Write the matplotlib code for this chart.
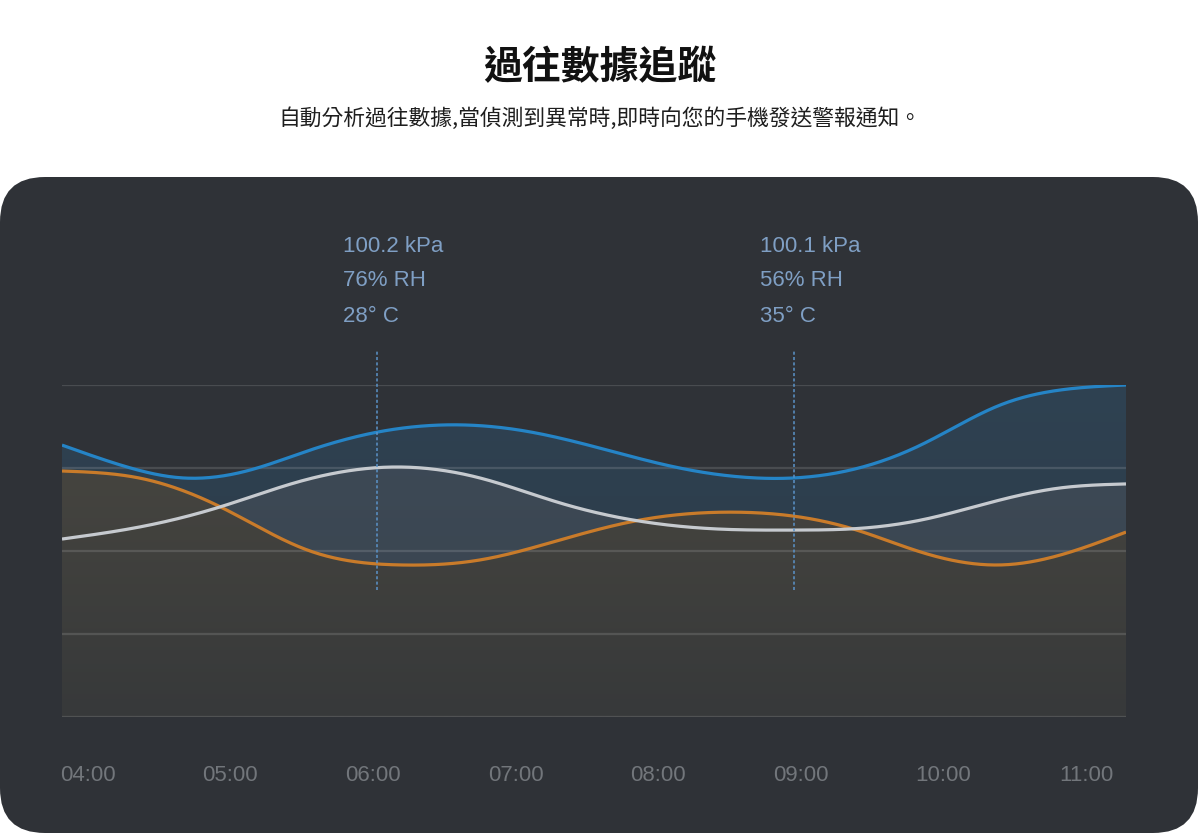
import matplotlib.pyplot as plt
import numpy as np
from matplotlib.patches import FancyBboxPatch, PathPatch
from matplotlib.transforms import blended_transform_factory

# chart text
TITLE = "過往數據追蹤"
SUBTITLE = "自動分析過往數據,當偵測到異常時,即時向您的手機發送警報通知。"

# x axis (hours)
TICK_HOURS = [4, 5, 6, 7, 8, 9, 10, 11]
TICK_LABELS = ["04:00", "05:00", "06:00", "07:00", "08:00", "09:00", "10:00", "11:00"]
X_RANGE = (3.82, 11.28)

# series (hour, level 0-100)
BLUE_T = [3.82, 4.23, 4.67, 5.14, 5.56, 6.03, 6.54, 7.03, 7.59, 8.15, 8.58, 8.95, 9.35, 9.84, 10.40, 10.82, 11.28]
BLUE_V = [81.9, 75.9, 72.0, 74.4, 80.4, 85.8, 88.0, 86.4, 81.0, 75.0, 72.3, 72.0, 74.4, 81.9, 94.0, 98.5, 100.0]

WHITE_T = [3.82, 4.36, 4.93, 5.49, 6.15, 6.75, 7.31, 7.87, 8.43, 8.95, 9.37, 9.84, 10.40, 10.82, 11.28]
WHITE_V = [53.6, 57.2, 63.3, 71.0, 75.3, 72.0, 64.5, 59.0, 56.6, 56.3, 56.7, 59.3, 65.4, 69.0, 70.2]

ORANGE_T = [3.82, 4.36, 4.93, 5.54, 6.19, 6.75, 7.31, 7.87, 8.52, 8.95, 9.37, 9.84, 10.40, 10.82, 11.28]
ORANGE_V = [74.1, 72.0, 63.3, 50.3, 45.8, 47.3, 53.3, 59.3, 61.7, 60.5, 56.6, 49.7, 45.8, 48.8, 55.7]

GRID_LEVELS = [0, 25, 50, 75, 100]

# highlighted readings
MARKER_T = [6.03, 8.95]
PRESSURE = ["100.2 kPa", "100.1 kPa"]
HUMIDITY = ["76% RH", "56% RH"]
TEMPERATURE = ["28° C", "35° C"]

PANEL = "#2f3237"


def smooth_curve(x, y, n=600):
    """natural cubic spline through the points (for drawing only)"""
    x = np.asarray(x, float)
    y = np.asarray(y, float)
    k = len(x)
    h = np.diff(x)
    A = np.zeros((k, k))
    r = np.zeros(k)
    A[0, 0] = A[-1, -1] = 1.0
    for i in range(1, k - 1):
        A[i, i - 1] = h[i - 1]
        A[i, i] = 2 * (h[i - 1] + h[i])
        A[i, i + 1] = h[i]
        r[i] = 6 * ((y[i + 1] - y[i]) / h[i] - (y[i] - y[i - 1]) / h[i - 1])
    M = np.linalg.solve(A, r)
    xs = np.linspace(x[0], x[-1], n)
    j = np.clip(np.searchsorted(x, xs) - 1, 0, k - 2)
    a = x[j + 1] - xs
    b = xs - x[j]
    hj = h[j]
    ys = (M[j] * a**3 / (6 * hj) + M[j + 1] * b**3 / (6 * hj)
          + (y[j] / hj - M[j] * hj / 6) * a + (y[j + 1] / hj - M[j + 1] * hj / 6) * b)
    return xs, ys


def gradient_fill(ax, xs, ys, top, bottom, zorder):
    """fill under a curve with a vertical gradient"""
    verts = np.vstack([[xs[0], 0], np.column_stack([xs, ys]), [xs[-1], 0]])
    patch = PathPatch(
        plt.matplotlib.path.Path(verts), transform=ax.transData,
        facecolor="none", edgecolor="none",
    )
    ax.add_patch(patch)
    c0 = np.array(plt.matplotlib.colors.to_rgb(bottom))
    c1 = np.array(plt.matplotlib.colors.to_rgb(top))
    f = np.linspace(0, 1, 256)[:, None]
    grad = (c0 + (c1 - c0) * f)[:, None, :]
    im = ax.imshow(
        grad, extent=[X_RANGE[0], X_RANGE[1], 0, 100], origin="lower",
        aspect="auto", zorder=zorder, interpolation="bilinear",
    )
    im.set_clip_path(patch)


def main():
    fig = plt.figure(figsize=(12, 8.35), dpi=100, facecolor="white")

    # background layer in pixel units
    bg = fig.add_axes([0, 0, 1, 1])
    bg.set_xlim(0, 1200)
    bg.set_ylim(835, 0)
    bg.axis("off")
    bg.add_patch(FancyBboxPatch(
        (0, 177), 1198, 656, boxstyle="round,pad=0,rounding_size=45",
        facecolor=PANEL, edgecolor="none",
    ))
    bg.text(600, 68, TITLE, ha="center", va="center", fontsize=28,
            fontweight="bold", color="#111111", family=["Noto Sans CJK TC", "DejaVu Sans"])
    bg.text(600, 119, SUBTITLE, ha="center", va="center", fontsize=15.7,
            color="#1e1e1e", family=["Noto Sans CJK TC", "DejaVu Sans"])

    # chart
    ax = fig.add_axes([62 / 1200, 1 - 717 / 835, 1064 / 1200, 332 / 835])
    ax.set_facecolor("none")
    ax.set_xlim(*X_RANGE)
    ax.set_ylim(0, 100)

    bx, by = smooth_curve(BLUE_T, BLUE_V)
    wx, wy = smooth_curve(WHITE_T, WHITE_V)
    ox, oy = smooth_curve(ORANGE_T, ORANGE_V)

    gradient_fill(ax, bx, by, "#2f4252", "#2b3946", 1)
    gradient_fill(ax, wx, wy, "#3e4b58", "#39434d", 1.1)
    gradient_fill(ax, ox, oy, "#4a4841", "#37393a", 1.2)

    for lvl in GRID_LEVELS:
        ax.axhline(lvl, color="#ffffff", alpha=0.13, lw=1.6, zorder=2)

    ax.plot(ox, oy, color="#c97b2a", lw=2.3, zorder=3, solid_capstyle="butt")
    ax.plot(wx, wy, color="#c6cacf", lw=2.3, zorder=3.1, solid_capstyle="butt")
    ax.plot(bx, by, color="#2584c6", lw=2.3, zorder=3.2, solid_capstyle="butt")

    # highlighted readings
    trans = blended_transform_factory(ax.transData, ax.transAxes)
    for t, p, h, c in zip(MARKER_T, PRESSURE, HUMIDITY, TEMPERATURE):
        ax.plot([t, t], [0.3825, 1.105], transform=trans, clip_on=False,
                color="#5b93c9", lw=1.1, ls=(0, (2, 1.5)), zorder=4)
        for label, dy in zip([p, h, c], [139, 104, 69]):
            ax.annotate(label, xy=(t, 1), xycoords=trans, xytext=(-34, dy),
                        textcoords="offset pixels", ha="left", va="center",
                        fontsize=16, color="#7f9fc4", family="Liberation Sans",
                        annotation_clip=False)

    ax.set_xticks(TICK_HOURS)
    ax.set_xticklabels(TICK_LABELS, family="Liberation Sans", fontsize=16, color="#72767b")
    ax.tick_params(axis="x", length=0, pad=34.5)
    ax.set_yticks([])
    for s in ax.spines.values():
        s.set_visible(False)

    fig.savefig("out.png", dpi=100, facecolor="white")


if __name__ == "__main__":
    main()
